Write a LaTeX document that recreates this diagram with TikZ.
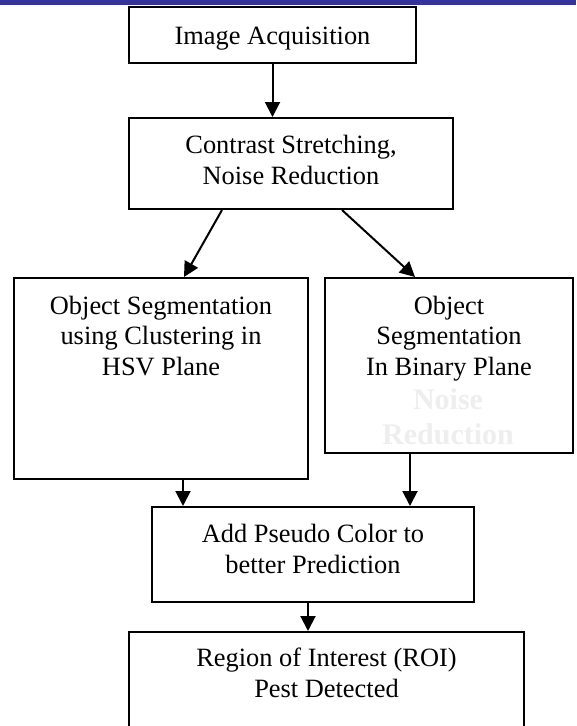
\documentclass[tikz,border=0pt]{standalone}
\usepackage{fontspec}
\setmainfont{Liberation Serif}
\usetikzlibrary{arrows.meta}
\definecolor{barblue}{HTML}{333399}
\definecolor{ghost}{HTML}{EEEEEE}
\begin{document}
\begin{tikzpicture}[x=1pt,y=-1pt,
  box/.style={draw=black,line width=2pt,inner sep=0pt,fill=white},
  lbl/.style={anchor=base,align=center,inner sep=0pt,font=\fontsize{26.4}{30.5}\selectfont},
  ghosttext/.style={anchor=base,align=center,inner sep=0pt,text=ghost,font=\bfseries\fontsize{30}{35}\selectfont},
  arr/.style={line width=2pt,-{Triangle[length=15pt,width=15pt]}}]
\useasboundingbox (0,0) rectangle (576,726);
\clip (0,0) rectangle (576,726);
% boxes
\node[box,minimum width=287,minimum height=56] (b1) at (272.5,35) {};
\node[box,minimum width=324,minimum height=91] (b2) at (291,163.5) {};
\node[box,minimum width=294,minimum height=201] (bL) at (161,378.5) {};
\node[box,minimum width=248,minimum height=175] (bR) at (449,365.5) {};
\node[box,minimum width=322,minimum height=95] (b3) at (313,554.5) {};
\node[box,minimum width=395,minimum height=140] (b4) at (326.5,702) {};
% texts (anchor base = baseline of the last line)
\node[lbl] (t1) at (272.5,44) {Image Acquisition};
\node[lbl] (t2) at (291,184) {Contrast Stretching,\\Noise Reduction};
\node[lbl] (tL) at (161,375) {Object Segmentation\\using Clustering in\\HSV Plane};
\node[lbl] (tR) at (449,375) {Object\\Segmentation\\In Binary Plane};
\begin{scope}
\clip (bR.north west) rectangle ([yshift=-11pt]bR.south east);
\node[ghosttext] (tG) at (448,444) {Noise\\Reduction};
\end{scope}
\node[lbl] (t3) at (313,573) {Add Pseudo Color to\\better Prediction};
\node[lbl] (t4) at (326.5,697) {Region of Interest (ROI)\\Pest Detected};
% connectors
\draw[arr] (b1.south) -- (b1.south |- b2.north);
\draw[arr] ([xshift=-69pt]b2.south) -- ([xshift=23pt]bL.north);
\draw[arr] ([xshift=51pt]b2.south) -- ([xshift=-34pt]bR.north);
\draw[arr] ([xshift=22pt]bL.south) -- ([xshift=22pt]bL.south |- b3.north);
\draw[arr] ([xshift=-39pt]bR.south) -- ([xshift=-39pt]bR.south |- b3.north);
\draw[arr] ([xshift=-5pt]b3.south) -- ([xshift=-5pt]b3.south |- b4.north);
% top bar
\fill[barblue] (0,0) rectangle (576,5);
\end{tikzpicture}
\end{document}
